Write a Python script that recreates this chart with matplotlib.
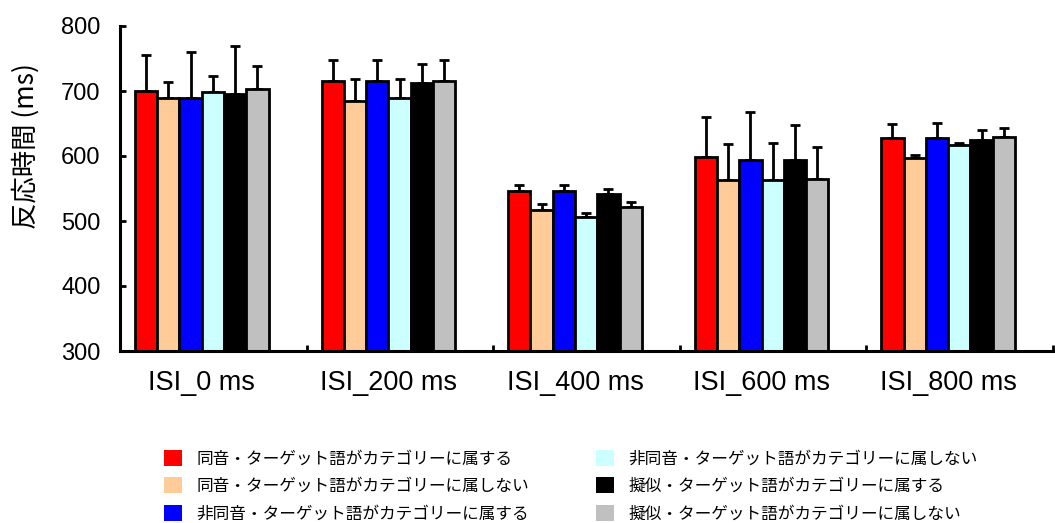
import numpy as np
import matplotlib
matplotlib.use("Agg")
import matplotlib.pyplot as plt
from matplotlib.patches import Patch

# ISI conditions on the x axis
categories = ["ISI_0 ms", "ISI_200 ms", "ISI_400 ms", "ISI_600 ms", "ISI_800 ms"]

# Series labels (word/target condition)
series_labels = [
    "同音・ターゲット語がカテゴリーに属する",
    "同音・ターゲット語がカテゴリーに属しない",
    "非同音・ターゲット語がカテゴリーに属する",
    "非同音・ターゲット語がカテゴリーに属しない",
    "擬似・ターゲット語がカテゴリーに属する",
    "擬似・ターゲット語がカテゴリーに属しない",
]
series_colors = ["#FF0000", "#FFCC99", "#0000FF", "#CCFFFF", "#000000", "#C0C0C0"]

# Mean reaction times (ms) per series, one value per ISI condition
homo_in = [700, 715, 546, 599, 628]
homo_out = [689, 685, 517, 563, 597]
nonhomo_in = [689, 715, 546, 594, 628]
nonhomo_out = [698, 689, 506, 563, 617]
pseudo_in = [695, 712, 542, 594, 624]
pseudo_out = [703, 716, 521, 564, 630]

# Standard deviations (upper error bars)
homo_in_sd = [55, 33, 9, 61, 21]
homo_out_sd = [25, 34, 9, 55, 4]
nonhomo_in_sd = [71, 33, 9, 74, 23]
nonhomo_out_sd = [25, 30, 6, 57, 3]
pseudo_in_sd = [74, 30, 8, 54, 16]
pseudo_out_sd = [36, 31, 8, 50, 13]

means = [homo_in, homo_out, nonhomo_in, nonhomo_out, pseudo_in, pseudo_out]
sds = [homo_in_sd, homo_out_sd, nonhomo_in_sd, nonhomo_out_sd, pseudo_in_sd, pseudo_out_sd]

latin = "Liberation Sans"
cjk = "Noto Sans CJK JP"

fig = plt.figure(figsize=(10.55, 5.23), dpi=100)
ax = fig.add_axes([120 / 1055, 1 - 351 / 523, (1053 - 120) / 1055, (351 - 26) / 523])

n = len(means)
bar_w = 0.1194
start = 0.080
x0 = np.arange(len(categories))
for i, (m, s) in enumerate(zip(means, sds)):
    xs = x0 + start + bar_w * (i + 0.5)
    ax.errorbar(xs, m, yerr=[np.zeros(len(s)), s], fmt="none", ecolor="black",
                elinewidth=2.0, capsize=3.5, capthick=2.0, zorder=1)
    ax.bar(xs, np.array(m) - 300, bottom=300, width=bar_w, color=series_colors[i],
           edgecolor="black", linewidth=2.0, zorder=2)

ax.set_xlim(0, len(categories))
ax.set_ylim(300, 800)
ax.set_yticks([300, 400, 500, 600, 700, 800])
centers = x0 + start + bar_w * n / 2
ax.set_xticks(centers)
ax.set_xticklabels(categories, family=latin, fontsize=19.5)
ax.set_xticks(np.arange(len(categories) + 1), minor=True)
ax.tick_params(axis="x", which="major", length=0, pad=14)
ax.tick_params(axis="x", which="minor", direction="in", length=4, width=2)
ax.tick_params(axis="y", direction="in", length=4, width=2, pad=14, labelsize=17)
for lab in ax.get_yticklabels():
    lab.set_family(latin)

for side in ("top", "right"):
    ax.spines[side].set_visible(False)
for side in ("left", "bottom"):
    ax.spines[side].set_linewidth(2.2)

fig.text(26 / 1055, 1 - 146 / 523, "反応時間 (ms)", rotation=90, ha="center", va="center",
         family=[cjk, "DejaVu Sans"], fontsize=19)

# Two-column legend below the plot
handles = [Patch(facecolor=c, edgecolor="none") for c in series_colors]
for col, xpos in ((0, 164 / 1055), (1, 596 / 1055)):
    fig.legend(handles[col * 3:(col + 1) * 3], series_labels[col * 3:(col + 1) * 3],
               loc="upper left", bbox_to_anchor=(xpos, 1 - 450 / 523),
               frameon=False, prop={"family": [cjk, "DejaVu Sans"], "size": 12},
               handlelength=1.1, handleheight=1.1, handletextpad=0.85,
               labelspacing=0.58, borderpad=0, borderaxespad=0)

fig.savefig("out.png", dpi=100)
